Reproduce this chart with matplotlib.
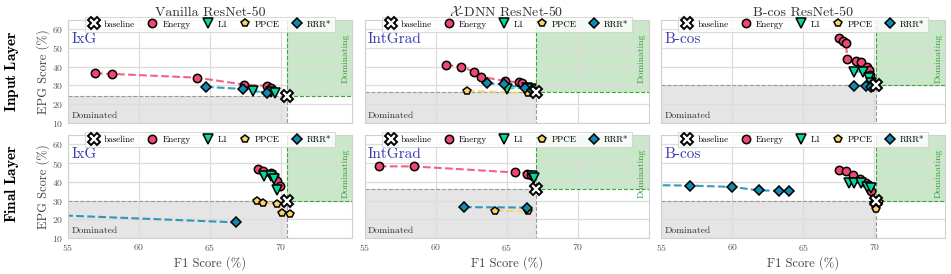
import matplotlib.pyplot as plt
from matplotlib.patches import Rectangle
from matplotlib.lines import Line2D

plt.rcParams['font.family'] = 'serif'
plt.rcParams['font.serif'] = ['cmr10']
plt.rcParams['mathtext.fontset'] = 'cm'
plt.rcParams['axes.formatter.use_mathtext'] = True

# labels
col_titles = ['Vanilla ResNet-50', r'$\mathcal{X}$-DNN ResNet-50', 'B-cos ResNet-50']
row_titles = [r'$\mathbf{Input\ Layer}$', r'$\mathbf{Final\ Layer}$']
attr_names = ['IxG', 'IntGrad', 'B-cos']
methods = ['Energy', 'L1', 'PPCE', 'RRR*']
x_ticks = [55, 60, 65, 70]
y_ticks = [10, 20, 30, 40, 50, 60]

# baseline (F1, EPG) per row / column
baselines = [[(70.4, 24.5), (67.1, 26.4), (70.1, 30.0)],
             [(70.4, 29.6), (67.1, 36.3), (70.1, 29.8)]]

# (F1, EPG) points for each guidance method
van_input = {
    'Energy': [(56.9, 36.4), (58.1, 36.1), (64.1, 34.1), (67.4, 30.4), (69.0, 29.8), (69.3, 28.6)],
    'L1': [(68.0, 26.8), (69.3, 26.2), (69.6, 25.8)],
    'PPCE': [],
    'RRR*': [(64.7, 29.2), (67.3, 28.1), (69.0, 26.0)],
}
xdnn_input = {
    'Energy': [(60.7, 40.9), (61.8, 40.0), (62.7, 37.3), (63.2, 34.6), (64.9, 32.3),
               (65.9, 31.6), (66.1, 31.1), (66.4, 29.0)],
    'L1': [(65.0, 28.3), (66.4, 28.8), (66.7, 28.2)],
    'PPCE': [(62.2, 27.2), (66.5, 25.9)],
    'RRR*': [(63.6, 31.1), (64.8, 30.6), (66.3, 28.5), (66.8, 27.5)],
}
bcos_input = {
    'Energy': [(67.5, 55.0), (67.8, 53.9), (68.0, 52.8), (68.1, 44.2), (68.7, 43.2),
               (69.1, 42.2), (69.5, 40.0), (69.6, 38.0), (69.7, 35.5)],
    'L1': [(68.6, 37.3), (69.2, 37.3), (69.6, 33.8), (69.8, 31.5)],
    'PPCE': [(69.5, 29.4), (69.9, 30.0)],
    'RRR*': [(68.6, 29.8), (69.4, 29.8), (69.8, 29.3)],
}
van_final = {
    'Energy': [(68.4, 47.0), (68.7, 45.8), (69.3, 44.8), (69.5, 43.0), (69.7, 40.5), (69.9, 38.0)],
    'L1': [(68.8, 43.0), (69.3, 43.3), (69.5, 41.5), (69.7, 35.5)],
    'PPCE': [(68.3, 30.0), (68.7, 28.8), (69.7, 28.0), (70.1, 23.5), (70.6, 23.0)],
    'RRR*': [(48.0, 24.1), (66.8, 18.4)],
}
xdnn_final = {
    'Energy': [(56.0, 48.3), (58.5, 48.2), (65.6, 45.0), (66.4, 44.4), (66.7, 43.6)],
    'L1': [(66.8, 43.3), (66.9, 42.0)],
    'PPCE': [(64.2, 24.6), (66.5, 24.2)],
    'RRR*': [(62.0, 26.5), (66.4, 26.3)],
}
bcos_final = {
    'Energy': [(67.5, 46.5), (68.0, 45.8), (68.5, 43.8), (69.0, 41.5), (69.4, 39.5),
               (69.6, 38.0), (69.8, 35.0)],
    'L1': [(68.2, 39.5), (68.6, 39.2), (69.1, 39.4), (69.5, 37.5), (69.8, 36.5)],
    'PPCE': [(70.0, 28.5), (70.1, 25.5), (70.3, 29.0)],
    'RRR*': [(52.0, 38.5), (57.0, 38.0), (60.0, 37.3), (61.9, 35.4), (63.3, 35.3), (64.0, 34.9)],
}
panels = [[van_input, xdnn_input, bcos_input],
          [van_final, xdnn_final, bcos_final]]

colors = {'Energy': '#ef476f', 'L1': '#06d6a0', 'PPCE': '#ffd166', 'RRR*': '#118ab2'}
markers = {'Energy': 'o', 'L1': 'v', 'PPCE': 'p', 'RRR*': 'D'}
msizes = {'Energy': 6, 'L1': 6.5, 'PPCE': 5.5, 'RRR*': 5.5}

xlim = (55, 75)
ylim = (10, 65)

fig, axes = plt.subplots(2, 3, figsize=(9.51, 2.74), dpi=100, sharex=True, sharey=True)
fig.subplots_adjust(left=0.0715, right=0.994, top=0.928, bottom=0.131, wspace=0.044, hspace=0.117)

handles = [Line2D([], [], ls='none', marker='X', ms=8, mfc='white', mec='k', mew=1.4)]
for m in methods:
    handles.append(Line2D([], [], ls='none', marker=markers[m], ms=msizes[m],
                          mfc=colors[m], mec='k', mew=1.1))
labels = ['baseline'] + methods

for r in range(2):
    for c in range(3):
        ax = axes[r, c]
        bx, by = baselines[r][c]
        ax.set_xlim(*xlim)
        ax.set_ylim(*ylim)
        ax.set_xticks(x_ticks)
        ax.set_yticks(y_ticks)
        ax.grid(True, color='#dcdcdc', lw=0.9)
        ax.set_axisbelow(True)
        for s in ax.spines.values():
            s.set_color('#d0d0d0')
        ax.tick_params(length=0, labelsize=7, labelcolor='#555555', pad=3)

        # dominated / dominating regions
        ax.add_patch(Rectangle((xlim[0], ylim[0]), bx - xlim[0], by - ylim[0],
                               fc='#7f7f7f', alpha=0.2, ec='none', zorder=0.2))
        ax.plot([xlim[0], bx, bx], [by, by, ylim[0]], ls='--', color='#9a9a9a', lw=0.8, zorder=1)
        ax.add_patch(Rectangle((bx, by), xlim[1] - bx, ylim[1] - by,
                               fc='#2ca02c', alpha=0.25, ec='none', zorder=0.2))
        ax.plot([bx, bx, xlim[1]], [ylim[1], by, by], ls='--', color='#3aa53a', lw=0.8, zorder=1)

        data = panels[r][c]
        for m in methods:
            pts = data[m]
            if not pts:
                continue
            xs = [p[0] for p in pts]
            ys = [p[1] for p in pts]
            ax.plot(xs, ys, ls='--', lw=1.5, color=colors[m], alpha=0.85, zorder=2)
            ax.plot(xs, ys, ls='none', marker=markers[m], ms=msizes[m], mfc=colors[m],
                    mec='k', mew=1.1, zorder=3)
        ax.plot(bx, by, ls='none', marker='X', ms=9, mfc='white', mec='k', mew=1.4, zorder=4)

        ax.text(0.012, 0.81, attr_names[c], transform=ax.transAxes, fontsize=11,
                color='#3b3bb0', va='center', ha='left')
        ax.text(0.012, 0.03, 'Dominated', transform=ax.transAxes, fontsize=7,
                color='#333333', va='bottom', ha='left')
        ax.text(0.99, 0.63, 'Dominating', transform=ax.transAxes, fontsize=7,
                color='#3a9a3a', va='center', ha='right', rotation=90)

        leg = ax.legend(handles, labels, loc='upper center', bbox_to_anchor=(0.5, 1.03),
                        ncol=5, fontsize=6.5, frameon=True, borderaxespad=0,
                        handletextpad=0.5, columnspacing=1.3, borderpad=0.4,
                        fancybox=False, handlelength=1.2)
        leg.get_frame().set_edgecolor('#d0d0d0')
        leg.get_frame().set_linewidth(0.8)
        leg.set_zorder(10)

        if r == 0:
            ax.set_title(col_titles[c], fontsize=10, color='#333333', pad=3)
        if r == 1:
            ax.set_xlabel('F1 Score (%)', fontsize=9, color='#444444', labelpad=2)
        if c == 0:
            ax.set_ylabel('EPG Score (%)', fontsize=9, color='#444444', labelpad=2)

fig.text(0.013, 0.74, row_titles[0], rotation=90, fontsize=11, ha='center', va='center')
fig.text(0.013, 0.33, row_titles[1], rotation=90, fontsize=11, ha='center', va='center')

fig.savefig('out.png', dpi=100)
